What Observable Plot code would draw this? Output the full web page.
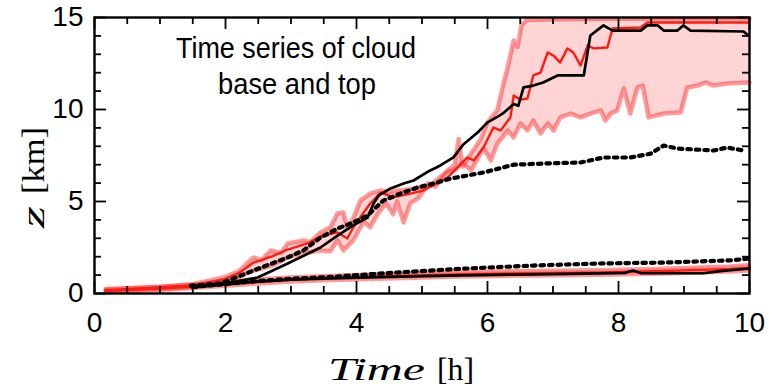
<!DOCTYPE html>
<html><head><meta charset="utf-8">
<script src="https://cdn.jsdelivr.net/npm/d3@7"></script>
<script src="https://cdn.jsdelivr.net/npm/@observablehq/plot@0.6"></script>
<style>body{margin:0;background:#fff;}</style>
</head><body><div id="chart"></div>
<script>
// ---- cloud top: upper envelope of ensemble band (light red) ----
const upT = [0.17,1.0,1.5,2.0,2.2,2.43,2.55,2.69,2.85,2.95,3.19,3.3,3.45,3.6,3.71,3.8,3.86,3.95,4.06,4.21,4.37,4.5,4.63,4.87,5.13,5.33,5.5,5.56,5.62,5.75,5.9,6.0,6.15,6.23,6.31,6.4,6.46,6.52,6.6,7.1,8.0,10.0];
const upZ = [0.2,0.35,0.5,0.9,1.2,1.96,1.8,2.34,2.2,2.72,2.88,2.8,3.32,3.6,4.35,4.4,3.53,4.08,5.05,5.43,5.6,5.5,5.6,5.7,5.87,6.5,7.0,8.4,6.9,7.6,8.4,9.3,9.95,11.2,12.3,13.75,13.4,14.6,14.87,14.9,14.93,14.95];
// ---- cloud top: lower envelope of ensemble band ----
const loT = [0.17,1.0,1.5,2.0,2.43,2.7,2.95,3.2,3.45,3.6,3.71,3.8,3.95,4.11,4.21,4.32,4.45,4.56,4.62,4.72,4.82,4.95,5.1,5.2,5.39,5.5,5.62,5.75,5.94,6.05,6.15,6.31,6.4,6.5,6.61,6.7,6.81,6.92,7.01,7.11,7.27,7.42,7.57,7.73,7.8,7.88,7.98,8.08,8.18,8.29,8.37,8.46,8.69,8.95,9.05,9.21,9.33,9.45,9.66,10.0];
const loZ = [0.12,0.25,0.35,0.6,1.25,1.5,1.96,2.2,2.34,2.3,2.9,2.34,2.88,3.9,3.6,4.3,4.9,4.3,5.0,3.86,4.9,5.2,6.0,5.8,6.6,6.7,7.1,6.7,7.9,7.23,8.15,8.86,8.48,9.24,8.86,9.4,8.7,9.24,8.86,9.57,9.78,9.57,9.78,9.95,9.4,9.78,9.95,11.14,9.78,11.2,11.3,9.57,9.78,9.84,11.2,11.3,11.47,11.3,11.41,11.47];
// ---- cloud top: red mean line ----
const redTopT = [0.17,1.47,1.97,2.2,2.43,2.7,2.95,3.25,3.45,3.71,3.86,3.95,4.11,4.21,4.37,4.56,4.82,5.02,5.39,5.69,5.79,5.94,6.09,6.2,6.35,6.4,6.5,6.61,6.7,6.81,6.92,7.01,7.11,7.22,7.31,7.42,7.53,7.62,7.83,7.91,8.34,8.44,10.0];
const redTopZ = [0.16,0.43,0.76,1.1,1.68,2.0,2.39,2.72,3.1,3.32,2.99,3.59,4.4,4.89,5.49,5.22,5.43,5.6,6.3,7.39,7.23,7.93,9.02,8.86,9.57,10.76,10.54,10.6,11.85,12.01,13.1,12.93,12.55,13.32,13.1,12.39,13.48,13.32,13.37,14.4,14.46,14.73,14.73];
// ---- cloud top: black solid ----
const blackTopT = [1.5,1.97,2.49,2.95,3.45,3.71,3.95,4.17,4.26,4.34,4.52,4.72,4.87,5.08,5.28,5.48,5.63,5.85,6.0,6.15,6.24,6.4,6.47,6.55,6.7,6.85,7.07,7.47,7.57,7.77,7.91,8.34,8.44,8.6,8.69,8.9,8.99,9.1,9.91,9.98];
const blackTopZ = [0.33,0.54,0.87,1.63,2.5,3.15,3.7,4.13,4.89,5.33,5.71,5.98,6.14,6.6,6.96,7.4,8.1,8.75,9.3,9.6,9.8,10.3,10.2,11.2,11.3,11.47,11.85,11.85,14.02,14.57,14.29,14.29,14.57,14.57,14.29,14.29,14.57,14.29,14.24,14.02];
// ---- cloud top: black dotted ----
const dotTopT = [1.47,1.92,2.43,2.95,3.19,3.45,3.71,3.95,4.17,4.41,4.67,4.93,5.18,5.44,5.69,5.94,6.4,6.92,7.42,7.77,8.18,8.49,8.69,8.9,9.45,9.66,9.91];
const dotTopZ = [0.43,0.54,1.25,1.96,2.34,3.04,3.53,3.86,4.24,5.05,5.43,5.76,5.98,6.25,6.41,6.58,7.0,7.07,7.12,7.39,7.39,7.6,8.04,7.88,7.77,7.93,7.77];
// ---- cloud base ----
const baseT = [0.17,1.0,1.5,2.0,2.5,3.0,3.6,4.6,5.6,6.7,7.7,8.7,9.7,10.0];
const baseRed = [0.15,0.28,0.38,0.52,0.66,0.76,0.84,0.95,1.05,1.1,1.14,1.22,1.33,1.4];
const baseLow = [0.05,0.18,0.27,0.4,0.52,0.62,0.7,0.8,0.9,0.95,0.99,1.06,1.17,1.24];
const baseHigh = [0.27,0.4,0.5,0.66,0.8,0.9,0.98,1.1,1.2,1.25,1.29,1.37,1.49,1.56];
const blackBaseT = [1.5,2.0,2.5,3.0,3.6,4.5,5.6,6.7,7.7,8.1,8.22,8.35,9.3,9.55,10.0];
const blackBaseZ = [0.33,0.5,0.65,0.75,0.82,0.9,0.98,1.04,1.09,1.12,1.25,1.1,1.1,1.22,1.36];
const dotBaseT = [1.5,2.0,2.5,3.0,3.6,4.6,5.7,6.7,7.7,8.7,9.7,10.0];
const dotBaseZ = [0.35,0.52,0.68,0.8,0.9,1.14,1.36,1.52,1.63,1.68,1.8,1.9];
// ---- ticks ----
const xTickLabels = [0,2,4,6,8,10];
const xMinor = [0.5,1,1.5,2.5,3,3.5,4.5,5,5.5,6.5,7,7.5,8.5,9,9.5];
const yTickLabels = [0,5,10,15];
const yMinor = [1,2,3,4,6,7,8,9,11,12,13,14];

const W = 773, H = 390, mL = 94, mR = 24, mT = 17, mB = 97;
const innerW = W - mL - mR, innerH = H - mT - mB;
const pts = (ts, zs) => ts.map((t, i) => ({t, z: zs[i]}));
const band = [...pts(upT, upZ), ...pts(loT, loZ).reverse()];
const baseBand = [...pts(baseT, baseHigh), ...pts(baseT, baseLow).reverse()];

const envColor = "rgba(255,30,30,0.45)", bandFill = "rgba(255,0,0,0.17)", red = "#ff1a10";

const chart = Plot.plot({
  width: W, height: H,
  marginLeft: mL, marginRight: mR, marginTop: mT, marginBottom: mB,
  x: {domain: [0, 10]},
  y: {domain: [0, 15]},
  style: {fontFamily: "'Liberation Sans', Arial, sans-serif", fontSize: "28px", color: "#000", background: "#fff"},
  marks: [
    Plot.line(band, {x: "t", y: "z", fill: bandFill, stroke: "none"}),
    Plot.line(baseBand, {x: "t", y: "z", fill: bandFill, stroke: "none"}),
    Plot.line(pts(upT, upZ), {x: "t", y: "z", stroke: envColor, strokeWidth: 4.5}),
    Plot.line(pts(loT, loZ), {x: "t", y: "z", stroke: envColor, strokeWidth: 4.5}),
    Plot.line(pts(baseT, baseHigh), {x: "t", y: "z", stroke: envColor, strokeWidth: 3.5}),
    Plot.line(pts(baseT, baseLow), {x: "t", y: "z", stroke: envColor, strokeWidth: 3.5}),
    Plot.line(pts(redTopT, redTopZ), {x: "t", y: "z", stroke: red, strokeWidth: 2.4}),
    Plot.line(pts(baseT, baseRed), {x: "t", y: "z", stroke: red, strokeWidth: 2.6}),
    Plot.line(pts(blackTopT, blackTopZ), {x: "t", y: "z", stroke: "#000", strokeWidth: 2.7}),
    Plot.line(pts(blackBaseT, blackBaseZ), {x: "t", y: "z", stroke: "#000", strokeWidth: 2.7}),
    Plot.line(pts(dotTopT, dotTopZ), {x: "t", y: "z", stroke: "#000", strokeWidth: 4.2, strokeDasharray: "3.5,5"}),
    Plot.line(pts(dotBaseT, dotBaseZ), {x: "t", y: "z", stroke: "#000", strokeWidth: 4.2, strokeDasharray: "3.5,5"}),
    // inward ticks
    Plot.tickX(xMinor, {insetTop: innerH - 7, strokeWidth: 1.8}),
    Plot.tickX(xMinor, {insetBottom: innerH - 7, strokeWidth: 1.8}),
    Plot.tickX(xTickLabels, {insetTop: innerH - 12, strokeWidth: 1.8}),
    Plot.tickX(xTickLabels, {insetBottom: innerH - 12, strokeWidth: 1.8}),
    Plot.tickY(yMinor, {insetRight: innerW - 7, strokeWidth: 1.8}),
    Plot.tickY(yMinor, {insetLeft: innerW - 7, strokeWidth: 1.8}),
    Plot.tickY(yTickLabels, {insetRight: innerW - 12, strokeWidth: 1.8}),
    Plot.tickY(yTickLabels, {insetLeft: innerW - 12, strokeWidth: 1.8}),
    Plot.axisX(xTickLabels, {tickSize: 0, tickPadding: 19, fontSize: 28, label: null}),
    Plot.axisY(yTickLabels, {tickSize: 0, tickPadding: 11, fontSize: 28, label: null}),
    Plot.frame({stroke: "#000", strokeWidth: 2.4})
  ]
});
document.getElementById("chart").appendChild(chart);

const svg = d3.select(chart);
const serif = "'Liberation Serif', 'Times New Roman', serif";
// title annotation
const title = svg.append("g").attr("font-family", "'Liberation Sans', Arial, sans-serif")
  .attr("font-size", 29).attr("fill", "#000").attr("text-anchor", "middle");
title.append("text").attr("x", 296).attr("y", 58).attr("textLength", 240).attr("lengthAdjust", "spacingAndGlyphs").text("Time series of cloud");
title.append("text").attr("x", 297).attr("y", 94).attr("textLength", 158).attr("lengthAdjust", "spacingAndGlyphs").text("base and top");
// axis labels
const lab = svg.append("g").attr("font-family", serif).attr("font-size", 32).attr("fill", "#000").attr("text-anchor", "start");
lab.append("text").attr("font-style", "italic")
  .attr("x", 328).attr("y", 380).attr("textLength", 97).attr("lengthAdjust", "spacingAndGlyphs").text("Time");
lab.append("text")
  .attr("x", 437).attr("y", 380).attr("textLength", 37).attr("lengthAdjust", "spacingAndGlyphs").text("[h]");
lab.append("text").attr("font-style", "italic")
  .attr("transform", "translate(44,228) rotate(-90)").attr("textLength", 22).attr("lengthAdjust", "spacingAndGlyphs").text("z");
lab.append("text")
  .attr("transform", "translate(44,194) rotate(-90)").attr("textLength", 67).attr("lengthAdjust", "spacingAndGlyphs").text("[km]");
</script>
</body></html>
